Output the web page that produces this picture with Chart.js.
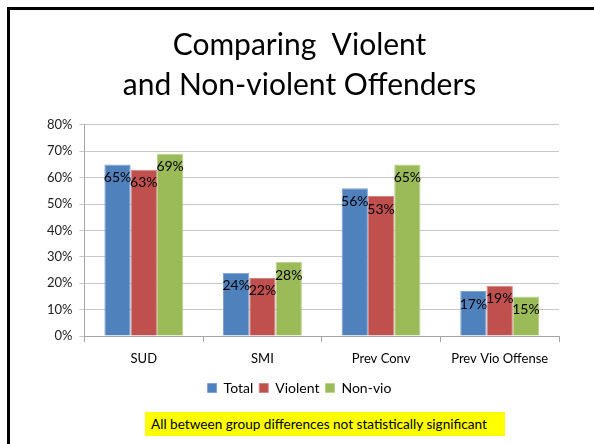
<!DOCTYPE html>
<html>
<head>
<meta charset="utf-8">
<script src="https://cdn.jsdelivr.net/npm/chart.js@4/dist/chart.umd.min.js"></script>
<style>
  body { margin: 0; background: #fff; }
  #wrap { position: relative; width: 594px; height: 444px; overflow: hidden; }
  #frame { position: absolute; left: 7px; top: 7px; width: 700px; height: 600px;
           border-left: 3px solid #000; border-top: 3px solid #000; }
  #note { position: absolute; left: 145px; top: 412px; width: 360px; height: 24px;
          background: #ffff00; font: 13.6px Lato, sans-serif; line-height: 24px;
          padding-left: 6px; box-sizing: border-box; color: #000; white-space: nowrap; }
  canvas { position: absolute; left: 0; top: 0; }
</style>
</head>
<body>
<div id="wrap">
  <div id="frame"></div>
  <canvas id="myChart" width="594" height="444"></canvas>
  <div id="note">All between group differences not statistically significant</div>
</div>
<script>
var categories = ["SUD", "SMI", "Prev Conv", "Prev Vio Offense"];
var total = [65, 24, 56, 17];
var violent = [63, 22, 53, 19];
var nonvio = [69, 28, 65, 15];
var y_ticks = [0, 10, 20, 30, 40, 50, 60, 70, 80];
var title_lines = ["Comparing  Violent", "and Non-violent Offenders"];

var font_name = "Lato, 'Open Sans', sans-serif";

// labels drawn inside the top of each bar, like the office chart
var barLabels = {
    id: "barLabels",
    afterDatasetsDraw: function(chart){
        var ctx = chart.ctx;
        ctx.save();
        ctx.font = "14px " + font_name;
        ctx.fillStyle = "#000";
        ctx.textAlign = "center";
        ctx.textBaseline = "middle";
        chart.data.datasets.forEach(function(ds, i){
            var meta = chart.getDatasetMeta(i);
            meta.data.forEach(function(bar, j){
                ctx.fillText(ds.data[j] + "%", bar.x, bar.y + 13);
            });
        });
        ctx.restore();
    }
};

var canvas = document.getElementById("myChart").getContext("2d");
var chart = new Chart(canvas, {
    type: "bar",
    data: {
        labels: categories,
        datasets: [
            {label: "Total", data: total, backgroundColor: "#4F81BD", borderColor: "#7FA3D0", borderWidth: 1},
            {label: "Violent", data: violent, backgroundColor: "#C0504D", borderColor: "#D68280", borderWidth: 1},
            {label: "Non-vio", data: nonvio, backgroundColor: "#9BBB59", borderColor: "#BBD38A", borderWidth: 1}
        ]
    },
    options: {
        responsive: false,
        animation: false,
        datasets: {bar: {categoryPercentage: 0.665, barPercentage: 1}},
        layout: {padding: {left: 40, right: 35, top: 0, bottom: 39}},
        plugins: {
            title: {
                display: true,
                text: title_lines,
                color: "#000",
                font: {family: font_name, size: 30, weight: "normal", lineHeight: 1.33},
                padding: {top: 25, bottom: 20}
            },
            legend: {
                position: "bottom",
                labels: {
                    boxWidth: 9, boxHeight: 9, padding: 6,
                    color: "#000",
                    font: {family: font_name, size: 14}
                }
            },
            tooltip: {enabled: false}
        },
        scales: {
            x: {
                grid: {drawOnChartArea: false, color: "#a6a6a6", tickLength: 6},
                border: {color: "#a6a6a6"},
                ticks: {color: "#000", font: {family: font_name, size: 13, lineHeight: 1}, padding: 10}
            },
            y: {
                min: 0, max: 80,
                afterBuildTicks: function(axis){
                    axis.ticks = y_ticks.map(function(v){ return {value: v}; });
                },
                grid: {color: "#c8c8c8", tickLength: 5},
                border: {color: "#a6a6a6"},
                ticks: {
                    color: "#222",
                    font: {family: font_name, size: 13},
                    padding: 7,
                    callback: function(v){ return v + "%"; }
                }
            }
        }
    },
    plugins: [barLabels]
});
</script>
</body>
</html>
